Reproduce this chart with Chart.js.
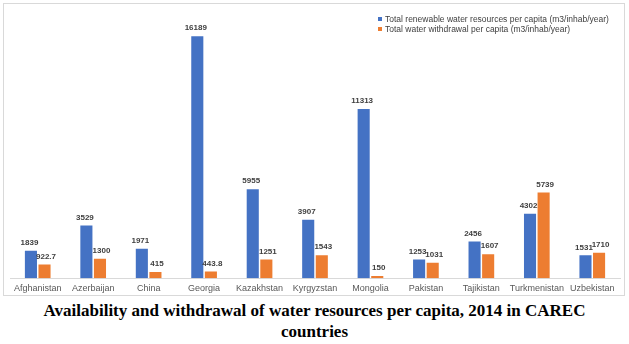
<!DOCTYPE html>
<html>
<head>
<meta charset="utf-8">
<script src="https://cdn.jsdelivr.net/npm/chart.js@4"></script>
<style>
  html, body { margin: 0; padding: 0; background: #ffffff; }
  body { width: 629px; height: 344px; position: relative; overflow: hidden; }
  #frame { position: absolute; left: 3px; top: 3px; width: 620px; height: 291px; border: 1px solid #d9d9d9; }
  #wrap { position: absolute; left: 4px; top: 4px; width: 619px; height: 297px; }
  #legend { position: absolute; left: 378px; top: 14px; font-family: "Liberation Sans", Arial, sans-serif; font-size: 8.5px; color: #404040; line-height: 10px; }
  #legend .item { white-space: nowrap; }
  #legend .sw { display: inline-block; width: 4px; height: 4px; margin-right: 3px; vertical-align: 1px; }
  #title { position: absolute; left: 0; top: 301px; width: 629px; text-align: center; font-family: "Liberation Serif", "Times New Roman", serif; font-weight: bold; font-size: 17px; line-height: 20.5px; color: #000; }
</style>
</head>
<body>
<div id="frame"></div>
<div id="wrap"><canvas id="c" width="619" height="297"></canvas></div>
<div id="legend"></div>
<div id="title">Availability and withdrawal of water resources per capita, 2014 in CAREC<br>countries</div>
<script>
const categories = ["Afghanistan", "Azerbaijan", "China", "Georgia", "Kazakhstan", "Kyrgyzstan", "Mongolia", "Pakistan", "Tajikistan", "Turkmenistan", "Uzbekistan"];
const renewable = [1839, 3529, 1971, 16189, 5955, 3907, 11313, 1253, 2456, 4302, 1531];
const withdrawal = [922.7, 1300, 415, 443.8, 1251, 1543, 150, 1031, 1607, 5739, 1710];
const seriesLabels = ["Total renewable water resources per capita (m3/inhab/year)", "Total water withdrawal per capita (m3/inhab/year)"];
const seriesColors = ["#4472C4", "#ED7D31"];

const legendEl = document.getElementById('legend');
seriesLabels.forEach((lab, i) => {
  const d = document.createElement('div');
  d.className = 'item';
  const s = document.createElement('span');
  s.className = 'sw';
  s.style.background = seriesColors[i];
  d.appendChild(s);
  d.appendChild(document.createTextNode(lab));
  legendEl.appendChild(d);
});

const valueLabels = {
  id: 'valueLabels',
  afterDatasetsDraw(chart) {
    const ctx = chart.ctx;
    ctx.save();
    ctx.font = 'bold 8px "Liberation Sans", Arial, sans-serif';
    ctx.fillStyle = '#404040';
    ctx.textAlign = 'center';
    ctx.textBaseline = 'bottom';
    chart.data.datasets.forEach((ds, di) => {
      const meta = chart.getDatasetMeta(di);
      const shift = di === 0 ? -1.5 : 1.5;
      meta.data.forEach((el, i) => {
        ctx.fillText(String(ds.data[i]), el.x + shift, el.y - 4);
      });
    });
    ctx.restore();
  }
};

new Chart(document.getElementById('c'), {
  type: 'bar',
  data: {
    labels: categories,
    datasets: [
      { label: seriesLabels[0], data: renewable, backgroundColor: seriesColors[0], categoryPercentage: 0.49, barPercentage: 0.89 },
      { label: seriesLabels[1], data: withdrawal, backgroundColor: seriesColors[1], categoryPercentage: 0.49, barPercentage: 0.89 }
    ]
  },
  options: {
    responsive: false,
    animation: false,
    layout: { padding: { left: 6, right: 3, top: 20, bottom: 2 } },
    plugins: { legend: { display: false }, tooltip: { enabled: false }, title: { display: false } },
    scales: {
      x: {
        grid: { display: false, drawTicks: false },
        border: { display: true, color: '#d9d9d9' },
        ticks: { color: '#595959', font: { family: '"Liberation Sans", Arial, sans-serif', size: 9 }, padding: 5, maxRotation: 0, autoSkip: false }
      },
      y: { display: false, min: 0, max: 17000 }
    }
  },
  plugins: [valueLabels]
});
</script>
</body>
</html>
